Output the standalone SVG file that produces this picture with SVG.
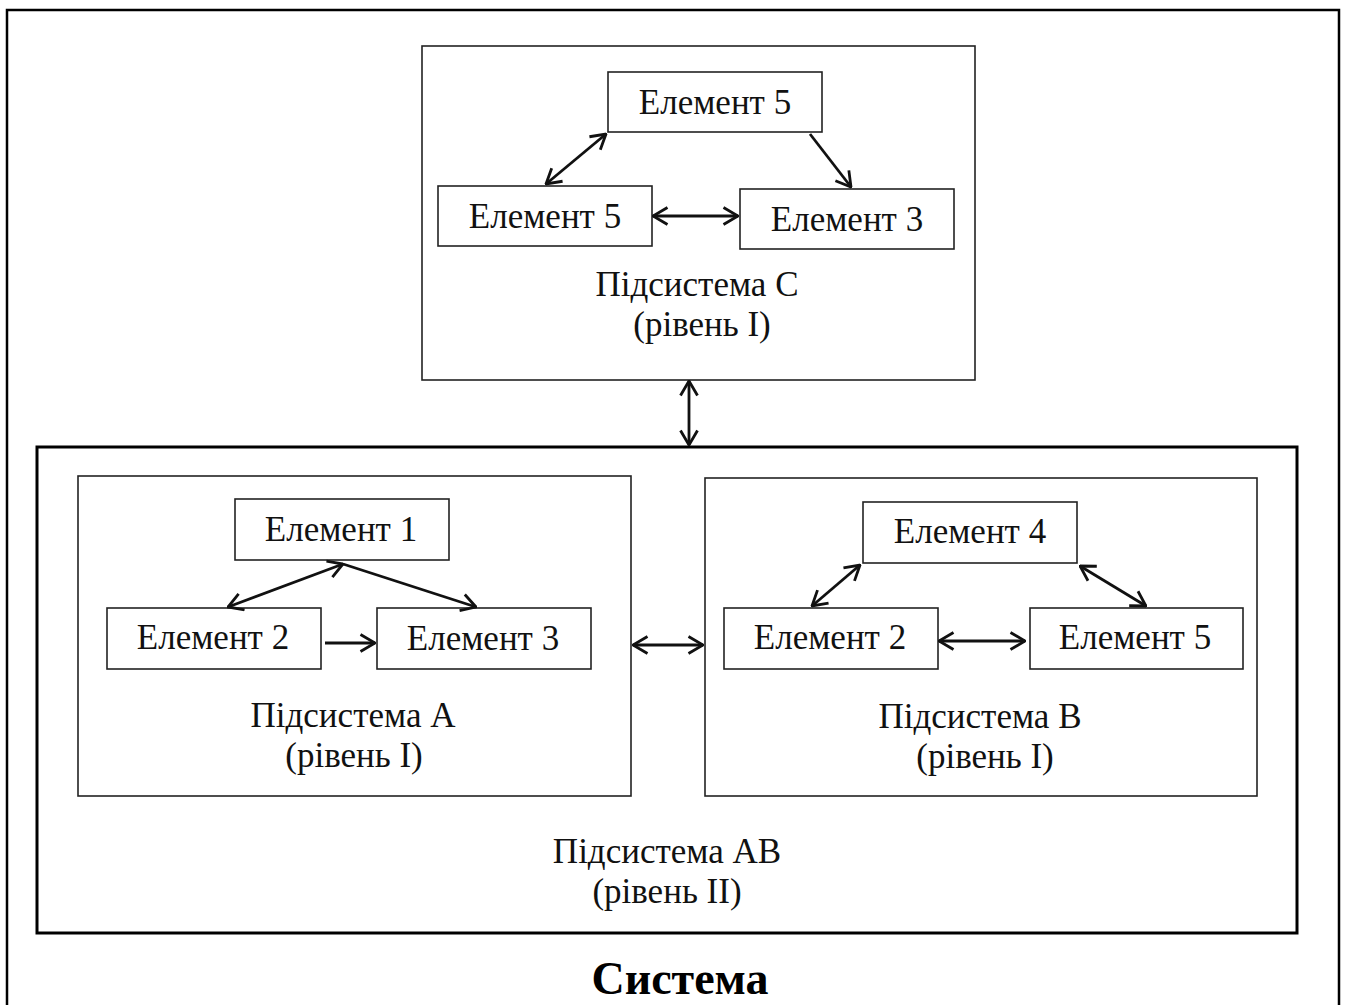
<svg xmlns="http://www.w3.org/2000/svg" width="1347" height="1005" viewBox="0 0 1347 1005">
  <defs>
    <style>
      .frame { fill: none; stroke: #000; stroke-width: 2.5; }
      .sub { fill: #fff; stroke: #222; stroke-width: 1.6; }
      .big { fill: #fff; stroke: #000; stroke-width: 3; }
      .el { fill: #fff; stroke: #222; stroke-width: 1.6; }
      .t { font-family: "Liberation Serif", "Times New Roman", serif; font-size: 35px; fill: #111; text-anchor: middle; }
      .title { font-family: "Liberation Serif", "Times New Roman", serif; font-size: 46px; font-weight: bold; fill: #000; text-anchor: middle; }
      .link { fill: none; stroke: #111; stroke-width: 2.8; }
    </style>
    <marker id="head" viewBox="0 0 17 20" refX="16" refY="10" markerWidth="17" markerHeight="20" markerUnits="userSpaceOnUse" orient="auto-start-reverse">
      <path d="M1.5,1.5 L16,10 L1.5,18.5" fill="none" stroke="#111" stroke-width="2.8"/>
    </marker>
  </defs>

  <rect width="1347" height="1005" fill="#fff"/>

  <!-- outer frame -->
  <path class="frame" d="M7,1010 L7,10 L1339,10 L1339,1010"/>

  <!-- subsystem C -->
  <g id="sub-c">
    <rect class="sub" x="422" y="46" width="553" height="334"/>
    <text class="t" x="697" y="296">Підсистема С</text>
    <text class="t" x="702" y="336">(рівень І)</text>
  </g>
  <g id="c-el5-top">
    <rect class="el" x="608" y="72" width="214" height="60"/>
    <text class="t" x="715" y="114">Елемент 5</text>
  </g>
  <g id="c-el5-left">
    <rect class="el" x="438" y="186" width="214" height="60"/>
    <text class="t" x="545" y="228">Елемент 5</text>
  </g>
  <g id="c-el3">
    <rect class="el" x="740" y="189" width="214" height="60"/>
    <text class="t" x="847" y="231">Елемент 3</text>
  </g>

  <!-- subsystem AB -->
  <g id="sub-ab">
    <rect class="big" x="37" y="447" width="1260" height="486"/>
    <text class="t" x="667" y="863">Підсистема АВ</text>
    <text class="t" x="667" y="903">(рівень ІІ)</text>
  </g>

  <!-- subsystem A -->
  <g id="sub-a">
    <rect class="sub" x="78" y="476" width="553" height="320"/>
    <text class="t" x="353" y="727">Підсистема А</text>
    <text class="t" x="354" y="767">(рівень І)</text>
  </g>
  <g id="a-el1">
    <rect class="el" x="235" y="499" width="214" height="61"/>
    <text class="t" x="341" y="541">Елемент 1</text>
  </g>
  <g id="a-el2">
    <rect class="el" x="107" y="608" width="214" height="61"/>
    <text class="t" x="213" y="649">Елемент 2</text>
  </g>
  <g id="a-el3">
    <rect class="el" x="377" y="608" width="214" height="61"/>
    <text class="t" x="483" y="650">Елемент 3</text>
  </g>

  <!-- subsystem B -->
  <g id="sub-b">
    <rect class="sub" x="705" y="478" width="552" height="318"/>
    <text class="t" x="980" y="728">Підсистема В</text>
    <text class="t" x="985" y="768">(рівень І)</text>
  </g>
  <g id="b-el4">
    <rect class="el" x="863" y="502" width="214" height="61"/>
    <text class="t" x="970" y="543">Елемент 4</text>
  </g>
  <g id="b-el2">
    <rect class="el" x="724" y="608" width="214" height="61"/>
    <text class="t" x="830" y="649">Елемент 2</text>
  </g>
  <g id="b-el5">
    <rect class="el" x="1030" y="608" width="213" height="61"/>
    <text class="t" x="1135" y="649">Елемент 5</text>
  </g>

  <text class="title" x="680" y="994">Система</text>

  <!-- connectors -->
  <g id="connectors">
    <line class="link" x1="606" y1="134" x2="546" y2="184" marker-start="url(#head)" marker-end="url(#head)"/>
    <line class="link" x1="810" y1="134" x2="851" y2="187" marker-end="url(#head)"/>
    <line class="link" x1="653" y1="216" x2="738" y2="216" marker-start="url(#head)" marker-end="url(#head)"/>
    <line class="link" x1="689" y1="381" x2="689" y2="445" marker-start="url(#head)" marker-end="url(#head)"/>
    <line class="link" x1="343" y1="564" x2="228" y2="607" marker-start="url(#head)" marker-end="url(#head)"/>
    <line class="link" x1="343" y1="564" x2="476" y2="607" marker-end="url(#head)"/>
    <line class="link" x1="325" y1="643" x2="375" y2="643" marker-end="url(#head)"/>
    <line class="link" x1="633" y1="645" x2="703" y2="645" marker-start="url(#head)" marker-end="url(#head)"/>
    <line class="link" x1="860" y1="565" x2="812" y2="606" marker-start="url(#head)" marker-end="url(#head)"/>
    <line class="link" x1="1080" y1="566" x2="1146" y2="606" marker-start="url(#head)" marker-end="url(#head)"/>
    <line class="link" x1="939" y1="641" x2="1025" y2="641" marker-start="url(#head)" marker-end="url(#head)"/>
  </g>
</svg>
